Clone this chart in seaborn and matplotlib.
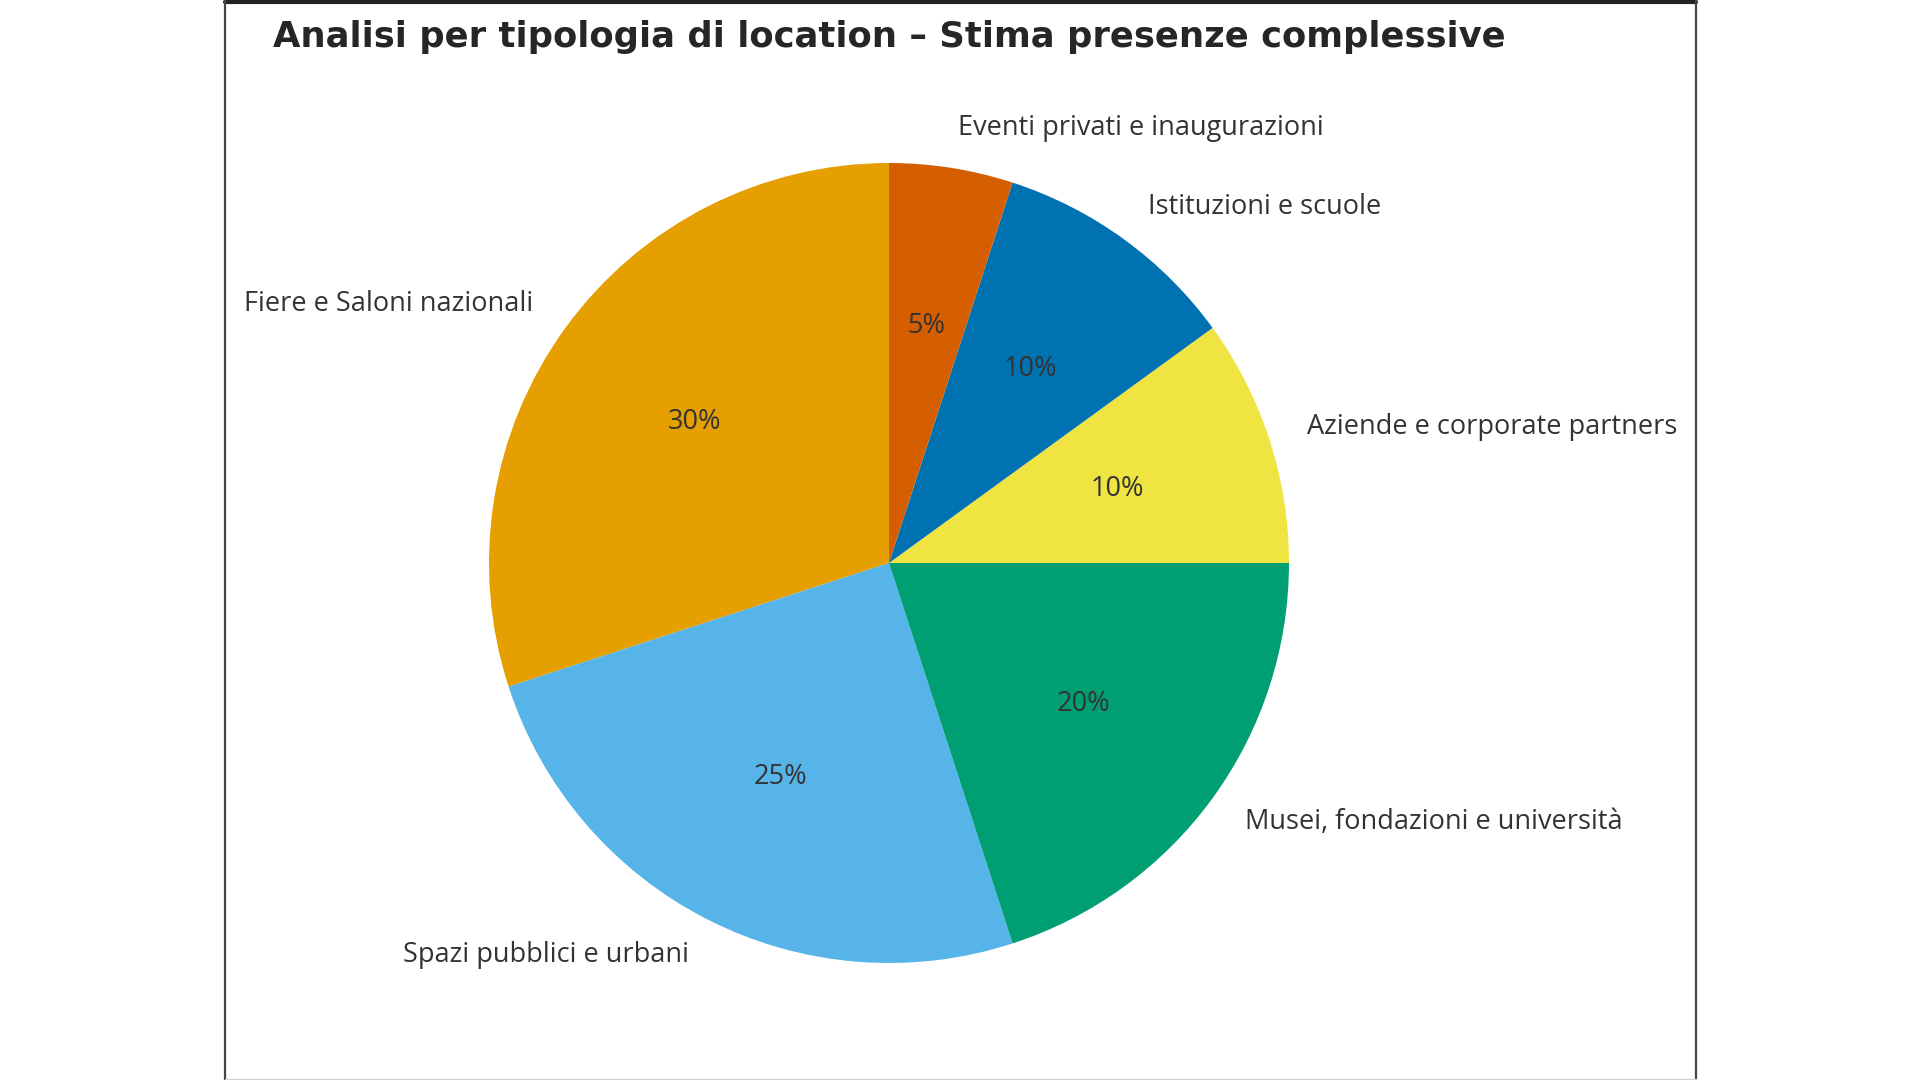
import matplotlib
matplotlib.use("Agg")
import matplotlib.pyplot as plt
import seaborn as sns
from matplotlib.lines import Line2D

OUT_PATH = "out.png"

TITLE = "Analisi per tipologia di location – Stima presenze complessive"
CATEGORIES = [
    "Fiere e Saloni nazionali",
    "Spazi pubblici e urbani",
    "Musei, fondazioni e università",
    "Aziende e corporate partners",
    "Istituzioni e scuole",
    "Eventi privati e inaugurazioni",
]
SHARES = [30, 25, 20, 10, 10, 5]
COLORS = ["#E69F00", "#56B4E9", "#009E73", "#F0E442", "#0072B2", "#D55E00"]


def plot_pie(save_path=None):
    sns.set_theme(style="white")
    plt.rcParams["font.family"] = ["DejaVu Sans"]

    fig = plt.figure(figsize=(19.2, 10.8), dpi=100)
    fig.patch.set_facecolor("white")

    # frame around the chart panel (screenshot look)
    W, H = 1920, 1080
    fig.add_artist(Line2D([225 / W, 1696 / W], [1 - 1.5 / H, 1 - 1.5 / H],
                          color="#222222", lw=3, transform=fig.transFigure))
    fig.add_artist(Line2D([225 / W, 225 / W], [0, 1], color="#444444", lw=1.6,
                          transform=fig.transFigure))
    fig.add_artist(Line2D([1696 / W, 1696 / W], [0, 1], color="#444444", lw=1.6,
                          transform=fig.transFigure))
    fig.add_artist(Line2D([225 / W, 1696 / W], [1 / H, 1 / H], color="#d0d0d0", lw=1,
                          transform=fig.transFigure))

    side = 1000
    cx, cy = 889, 563
    ax = fig.add_axes([(cx - side / 2) / W, (H - cy - side / 2) / H, side / W, side / H])

    wedges, texts, autotexts = ax.pie(
        SHARES,
        labels=CATEGORIES,
        colors=COLORS,
        autopct="%1.0f%%",
        startangle=90,
        counterclock=True,
        labeldistance=1.1,
        pctdistance=0.6,
        wedgeprops={"linewidth": 0},
        frame=False,
    )
    for t in texts + autotexts:
        t.set_fontfamily(["Open Sans", "DejaVu Sans"])
        t.set_fontsize(19.5)
        t.set_color("#333333")
    ax.set_aspect("equal")
    ax.set_xlim(-1.25, 1.25)
    ax.set_ylim(-1.25, 1.25)

    fig.text(cx / W, 1 - 37 / H, TITLE, ha="center", va="center",
             fontsize=25.5, fontweight="bold", color="#262626")

    if save_path:
        fig.savefig(save_path, dpi=100)
    plt.close(fig)


if __name__ == "__main__":
    plot_pie(OUT_PATH)
